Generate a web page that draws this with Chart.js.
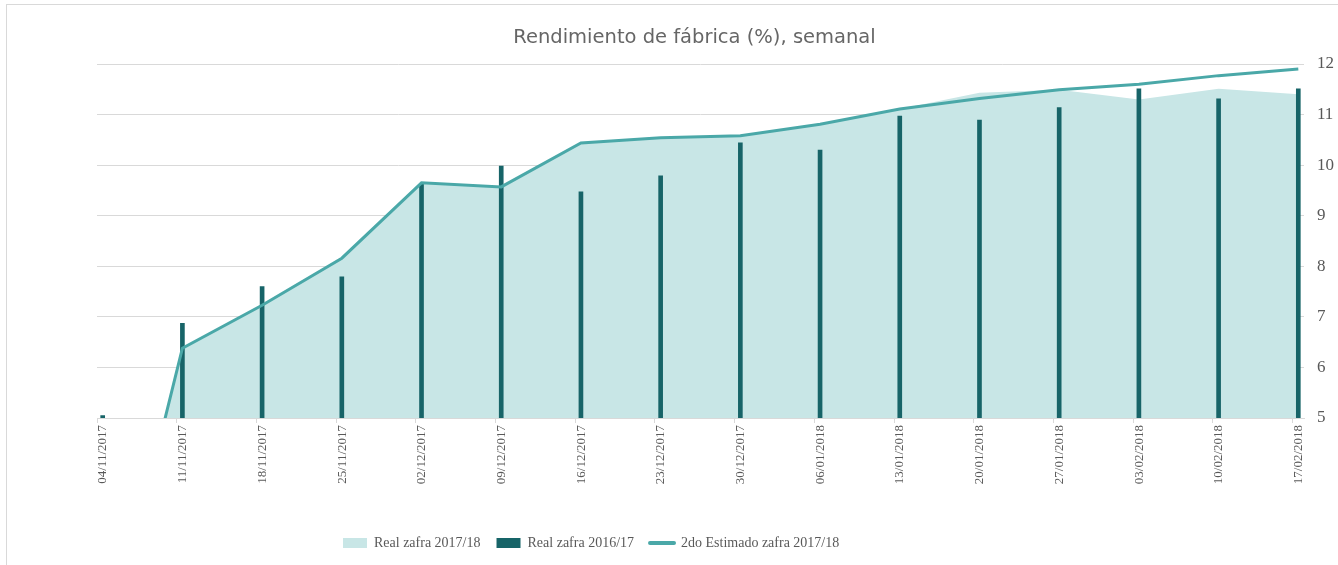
<!DOCTYPE html>
<html>
<head>
<meta charset="utf-8">
<script src="https://cdn.jsdelivr.net/npm/chart.js@4.4.0/dist/chart.umd.min.js"></script>
<style>
  html, body { margin: 0; padding: 0; background: #fff; }
  #wrap { width: 1338px; height: 565px; }
</style>
</head>
<body>
<div id="wrap"><canvas id="mycanvas" width="1338" height="565"></canvas></div>
<script>
// semanas (sabado de cada semana)
var semanas = ['04/11/2017', '11/11/2017', '18/11/2017', '25/11/2017', '02/12/2017', '09/12/2017',
  '16/12/2017', '23/12/2017', '30/12/2017', '06/01/2018', '13/01/2018', '20/01/2018',
  '27/01/2018', '03/02/2018', '10/02/2018', '17/02/2018'];

var real1718 = [0, 6.38, 7.23, 8.16, 9.65, 9.57, 10.44, 10.54, 10.58, 10.81, 11.11, 11.43, 11.49, 11.30, 11.51, 11.40];
var real1617 = [5.05, 6.87, 7.60, 7.79, 9.64, 9.98, 9.47, 9.79, 10.44, 10.30, 10.97, 10.89, 11.14, 11.51, 11.31, 11.51];
var estimado = [0, 6.38, 7.23, 8.16, 9.65, 9.57, 10.44, 10.54, 10.58, 10.81, 11.11, 11.32, 11.49, 11.60, 11.77, 11.90];

var ejeY = [5, 6, 7, 8, 9, 10, 11, 12];

// eje de fechas en dias: cada punto en el centro de su dia
function puntos(valores) {
  var out = [];
  for (var i = 0; i < valores.length; i++) {
    out.push({ x: i * 7 + 0.5, y: valores[i] });
  }
  return out;
}

var gris = '#595959';
var serif = 'Liberation Serif';

var marco = {
  id: 'marco',
  beforeDraw: function(chart) {
    var c = chart.ctx;
    c.save();
    c.strokeStyle = '#d9d9d9';
    c.lineWidth = 1;
    c.strokeRect(6.5, 4.5, 1400, 700);
    c.restore();
  },
  afterLayout: function(chart) {
    // leyenda y titulo un poco a la izquierda, como en el original
    var lg = chart.legend;
    var w = lg.right - lg.left;
    lg.left = 327;
    lg.right = lg.left + w;
    chart.titleBlock.left = 51;
  }
};

var chartdata = {
  datasets: [
    {
      type: 'line',
      label: 'Real zafra 2017/18',
      data: puntos(real1718),
      backgroundColor: '#c8e6e6',
      borderColor: '#c8e6e6',
      borderWidth: 0,
      pointRadius: 0,
      fill: 'start',
      order: 3
    },
    {
      type: 'bar',
      label: 'Real zafra 2016/17',
      data: puntos(real1617),
      backgroundColor: '#176468',
      barThickness: 4,
      order: 2
    },
    {
      type: 'line',
      label: '2do Estimado zafra 2017/18',
      data: puntos(estimado),
      borderColor: '#4aa8a8',
      backgroundColor: '#4aa8a8',
      borderWidth: 3,
      pointRadius: 0,
      fill: false,
      tension: 0,
      order: 1
    }
  ]
};

var ctx = document.getElementById('mycanvas');

var grafico = new Chart(ctx, {
  type: 'bar',
  data: chartdata,
  plugins: [marco],
  options: {
    responsive: false,
    animation: false,
    layout: { padding: { left: 97, right: 0, top: 0, bottom: 5 } },
    plugins: {
      tooltip: { enabled: false },
      title: {
        display: true,
        text: 'Rendimiento de fábrica (%), semanal',
        color: '#666666',
        font: { family: 'DejaVu Sans', size: 19.5, weight: 'normal' },
        padding: { top: 26.5, bottom: 14.1 }
      },
      legend: {
        position: 'bottom',
        align: 'start',
        labels: {
          color: gris,
          font: { family: serif, size: 14 },
          usePointStyle: true,
          pointStyleWidth: 24,
          boxHeight: 10,
          padding: 16,
          generateLabels: function(chart) {
            return chart.data.datasets.map(function(ds, i) {
              var esLinea = (i === 2);
              return {
                text: ds.label,
                fillStyle: esLinea ? 'rgba(0,0,0,0)' : ds.backgroundColor,
                strokeStyle: esLinea ? ds.borderColor : ds.backgroundColor,
                lineWidth: esLinea ? 4 : 0,
                lineCap: 'round',
                pointStyle: esLinea ? 'line' : 'rect',
                fontColor: gris,
                hidden: false,
                datasetIndex: i
              };
            });
          }
        }
      }
    },
    scales: {
      x: {
        type: 'linear',
        min: 0,
        max: (semanas.length - 1) * 7 + 1,
        offset: false,
        grid: {
          offset: false,
          drawOnChartArea: false,
          drawTicks: true,
          tickLength: 5,
          color: '#d9d9d9'
        },
        border: { display: true, color: '#d9d9d9' },
        afterFit: function(scale) { scale.height = 102; },
        ticks: {
          stepSize: 7,
          includeBounds: false,
          autoSkip: false,
          minRotation: 90,
          maxRotation: 90,
          labelOffset: 6,
          padding: 2,
          color: gris,
          font: { family: serif, size: 13 },
          callback: function(v) {
            var s = semanas[v / 7];
            return s === undefined ? '' : s;
          }
        }
      },
      y: {
        position: 'right',
        min: ejeY[0],
        max: ejeY[ejeY.length - 1],
        grid: { color: '#d9d9d9', drawTicks: false },
        border: { display: false },
        afterFit: function(scale) { scale.width = 34; },
        ticks: {
          stepSize: 1,
          padding: 13,
          color: gris,
          font: { family: serif, size: 17 }
        }
      }
    }
  }
});
</script>
</body>
</html>
